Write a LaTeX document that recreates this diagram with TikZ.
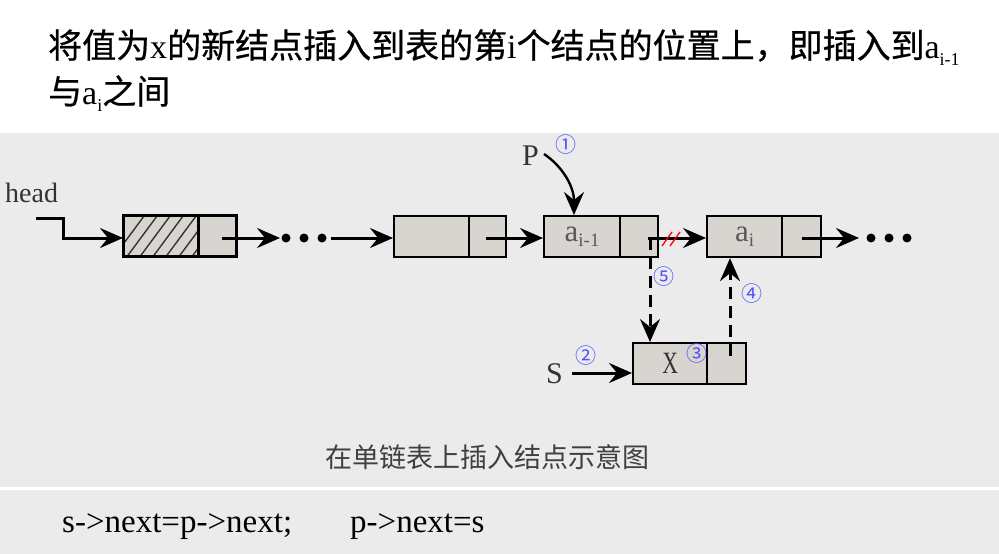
\documentclass[tikz,border=0pt]{standalone}
\usepackage{fontspec}
\setmainfont{Liberation Serif}
\newfontfamily\cjk{Noto Sans CJK SC}
\newfontfamily\cjkheavy[FakeBold=0.6]{Noto Sans CJK SC}
\usetikzlibrary{arrows.meta}
\definecolor{panel}{HTML}{EBEBEB}
\definecolor{cellfill}{HTML}{D8D5D0}
\definecolor{stepblue}{HTML}{5050FF}
\definecolor{labelgray}{HTML}{333333}
\tikzset{
  cell/.style={draw=black, line width=2.2pt, fill=cellfill, minimum height=41pt, inner sep=0pt, anchor=north west},
  link/.style={line width=3pt, -{Stealth[length=23pt,width=20pt,inset=8pt]}},
  dlink/.style={link, dash pattern=on 12pt off 7pt},
  dot/.style={circle, fill=black, inner sep=0pt, minimum size=9pt},
  stepnum/.style={text=stepblue, font=\cjk\fontsize{21}{21}\selectfont, inner sep=0pt},
  lbl/.style={text=labelgray, inner sep=0pt, anchor=base west},
}
\begin{document}
\begin{tikzpicture}[x=1pt, y=-1pt]
\useasboundingbox (0,0) rectangle (999,554);
% panels
\fill[white] (0,0) rectangle (999,133);
\fill[panel] (0,133) rectangle (999,487);
\fill[white] (0,487) rectangle (999,490);
\fill[panel] (0,490) rectangle (999,554);

% heading text
\node[inner sep=0pt, anchor=base west] (t1) at (48,58)
  {\fontsize{34}{40}\selectfont\cjkheavy 将值为{\rmfamily x}的新结点插入到表的第{\rmfamily i}个结点的位置上，即插入到{\rmfamily a\raisebox{-7pt}{\fontsize{18}{18}\selectfont i-1}}};
\node[inner sep=0pt, anchor=base west] (t2) at (48,104)
  {\fontsize{34}{40}\selectfont\cjkheavy 与{\rmfamily a\raisebox{-7pt}{\fontsize{18}{18}\selectfont i}}之间};

% node 1 (head node, hatched data field)
\node[cell, minimum width=75pt] (n1d) at (123,215) {};
\begin{scope}
  \clip (123,215) rectangle (198,256);
  \foreach \k in {0,...,9} {
    \draw[line width=1.4pt, black!80] (110+\k*13,262) -- (150+\k*13,208);
  }
\end{scope}
\node[cell, minimum width=38pt] (n1p) at (198,215) {};
\draw[line width=3pt] (123,215) rectangle (236,256);
\draw[line width=3pt] (198,215) -- (198,256);

% node 2
\node[cell, minimum width=75pt] (n2d) at (393,215) {};
\node[cell, minimum width=37pt] (n2p) at (468,215) {};
% node a_{i-1}
\node[cell, minimum width=76pt, font=\fontsize{31}{31}\selectfont, text=black!65] (n3d) at (543,215)
  {a\raisebox{-5pt}{\fontsize{19}{19}\selectfont i-1}};
\node[cell, minimum width=38pt] (n3p) at (619,215) {};
% node a_i
\node[cell, minimum width=75pt, font=\fontsize{31}{31}\selectfont, text=black!65] (n4d) at (706,215)
  {a\raisebox{-5pt}{\fontsize{19}{19}\selectfont i}};
\node[cell, minimum width=39pt] (n4p) at (781,215) {};
% new node X
\node[cell, minimum width=74pt, font=\fontsize{31}{31}\selectfont, text=black!80] (xd) at (632,342)
  {\scalebox{0.7}[1]{X}};
\node[cell, minimum width=39pt] (xp) at (706,342) {};

% pointer anchors
\coordinate (h0) at (36,218);
\coordinate (h1) at (63,218);
\coordinate (h2) at (63,238);
\coordinate (p1) at (222,238);
\coordinate (p2) at (486,238);
\coordinate (p3) at (648,238);
\coordinate (p3d) at (650,238);
\coordinate (p4) at (802,238);
\coordinate (px) at (730,356);
\coordinate (ptop) at (544,154);

% head pointer
\node[lbl, font=\fontsize{28}{28}\selectfont] (head) at (5,202) {head};
\draw[link] (h0) -- (h1) -- (h2) -- (n1d.west |- h2);

% chain with ellipses
\node[dot] (d1) at (286,238) {};
\node[dot] (d2) at (304,238) {};
\node[dot] (d3) at (322,238) {};
\draw[link] (p1) -- (280,238);
\draw[link] (331,238) -- (n2d.west |- p1);
\draw[link] (p2) -- (n3d.west |- p2);
\draw[link] (p3) -- (n4d.west |- p3);
\draw[line width=1.3pt, red] (662,246) -- (672,232);
\draw[line width=1.3pt, red] (670,246) -- (680,232);
\draw[link] (p4) -- (859,238);
\node[dot] (d4) at (871,238) {};
\node[dot] (d5) at (889,238) {};
\node[dot] (d6) at (907,238) {};

% pointer p
\node[lbl, font=\fontsize{30}{30}\selectfont] (P) at (522,165) {P};
\draw[link, line width=2.4pt] (ptop) .. controls (562,166) and (574,186) .. (n3d.north -| 574,215);

% pointer s
\node[lbl, font=\fontsize{30}{30}\selectfont] (S) at (546,383) {S};
\draw[link] (572,373) -- (xd.west |- 0,373);

% dashed steps
\draw[dlink] (p3d) -- (xd.north -| p3d);
\draw[dlink] (px) -- (n4d.south -| px);

% step numbers
\node[stepnum] (s1) at (566,145) {①};
\node[stepnum] (s2) at (586,356) {②};
\node[stepnum] (s3) at (697,354) {③};
\node[stepnum] (s4) at (752,294) {④};
\node[stepnum] (s5) at (664,277) {⑤};

% caption
\node[inner sep=0pt, text=black!75, font=\cjk\fontsize{27}{27}\selectfont] (cap) at (487,457) {在单链表上插入结点示意图};

% code line
\node[inner sep=0pt, anchor=base west, font=\fontsize{33}{33}\selectfont] (code) at (62,532)
  {s->next=p->next;\hspace{58pt}p->next=s};
\end{tikzpicture}
\end{document}
